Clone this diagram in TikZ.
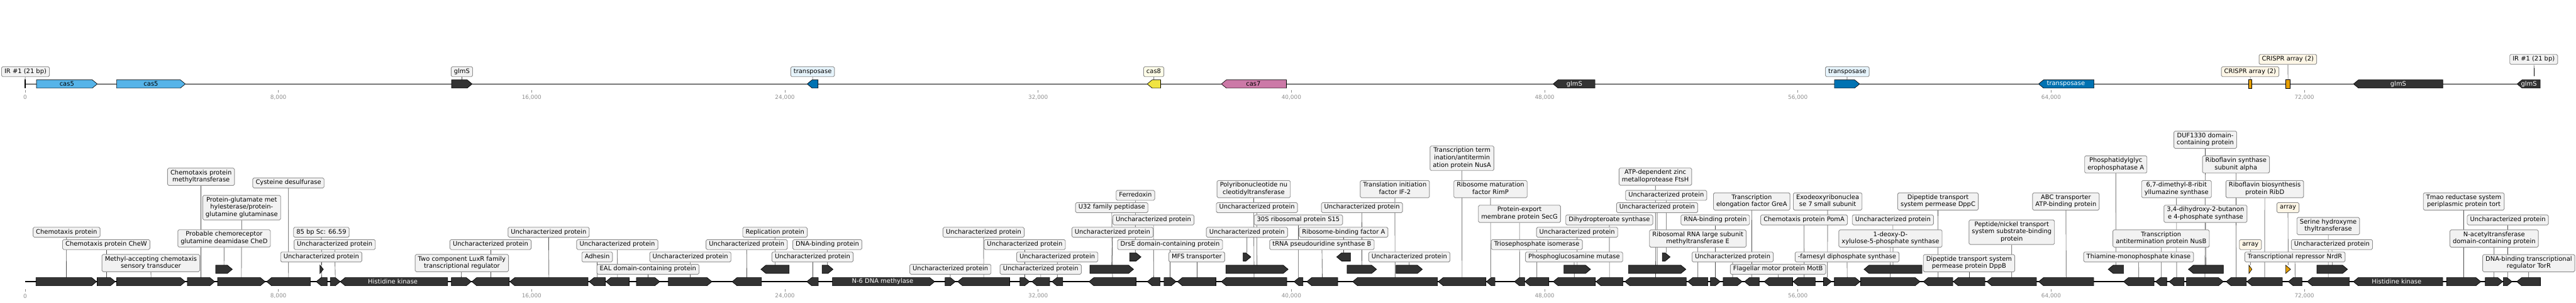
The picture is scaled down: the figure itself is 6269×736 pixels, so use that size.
\documentclass[tikz,border=0pt]{standalone}
\usepackage{fontspec}
\newfontfamily\dejavu{DejaVu Sans}
\pgfdeclarelayer{bg}
\pgfsetlayers{bg,main}

\definecolor{genedark}{HTML}{333333}
\definecolor{casblue}{HTML}{56B4E9}
\definecolor{tnpblue}{HTML}{0072B2}
\definecolor{casyellow}{HTML}{F0E442}
\definecolor{caspink}{HTML}{CC79A7}
\definecolor{crisprorange}{HTML}{E69F00}
\definecolor{boxfill}{HTML}{F2F2F2}
\definecolor{boxline}{HTML}{8F8F8F}
\definecolor{tnpfill}{HTML}{E6F4FC}
\definecolor{casfill}{HTML}{FEFDE8}
\definecolor{crisprfill}{HTML}{FDF6E6}
\definecolor{ticktext}{HTML}{8C8C8C}

\newcommand{\lblfont}{\dejavu\fontsize{7.6}{8.85}\selectfont}
\newcommand{\tickfont}{\dejavu\fontsize{6.8}{8}\selectfont}
% label text, one strut per line
\newcommand{\lines}[1]{\begin{tabular}{@{}c@{}}#1\end{tabular}}

\tikzset{
  gene/.style={draw=black, line width=0.5pt, fill=genedark, line join=miter},
  lbl/.style={draw=boxline, line width=0.7pt, fill=boxfill, rounded corners=1.5pt,
    font=\lblfont, inner xsep=3.5pt, inner ysep=1.65pt},
  conn/.style={draw=black!70, line width=0.5pt},
  track/.style={draw=black, line width=1.2pt},
  tickmark/.style={draw=ticktext, line width=0.5pt},
  ticklbl/.style={font=\tickfont, text=ticktext},
  genetxt/.style={font=\lblfont, text=white, inner sep=0pt},
}

% gene arrow: name, x1, x2, y centre, R/L, style
\newcommand{\gene}[6]{%
  \pgfmathsetmacro{\hd}{min(12,#3-#2)}%
  \if R#5
    \draw[#6] (#2,#4-10) -- ({#3-\hd},#4-10) -- (#3,#4) -- ({#3-\hd},#4+10) -- (#2,#4+10) -- cycle;
  \else
    \draw[#6] (#3,#4-10) -- ({#2+\hd},#4-10) -- (#2,#4) -- ({#2+\hd},#4+10) -- (#3,#4+10) -- cycle;
  \fi
  \coordinate (#1) at ({(#2+#3)/2},#4-10);%
}

\begin{document}
\begin{tikzpicture}[x=0.5pt, y=-0.5pt]
  \useasboundingbox (0,0) rectangle (6269,736);

  %%% upper track
  \coordinate (ua) at (61.2,204);
  \coordinate (ub) at (6181.9,204);
  \fill[black] (60.4,193) rectangle (62,215);
  \coordinate (fIRa) at (61.2,193);
  \gene{fcas5a}{88.8}{236.7}{204}{R}{gene, fill=casblue}
  \gene{fcas5b}{283.7}{451}{204}{R}{gene, fill=casblue}
  \gene{fglmSa}{1099}{1149}{204}{R}{gene}
  \gene{ftnpa}{1964.3}{1990.8}{204}{L}{gene, fill=tnpblue}
  \gene{fcas8}{2791.8}{2824.5}{204}{L}{gene, fill=casyellow}
  \gene{fcas7}{2972.4}{3130.6}{204}{L}{gene, fill=caspink}
  \gene{fglmSb}{3779.6}{3881.6}{204}{L}{gene}
  \gene{ftnpb}{4464.3}{4525.5}{204}{R}{gene, fill=tnpblue}
  \gene{ftnpc}{4961.1}{5096}{204}{L}{gene, fill=tnpblue}
  \draw[gene, fill=crisprorange] (5472.7,194) rectangle (5480.2,214);
  \coordinate (fcra) at (5476.4,194);
  \draw[gene, fill=crisprorange] (5562.6,194) rectangle (5573.8,214);
  \coordinate (fcrb) at (5568.2,194);
  \gene{fglmSc}{5727.5}{5944.8}{204}{L}{gene}
  \gene{fglmSd}{6125.6}{6181.9}{204}{L}{gene}
  \fill[black] (6166,165) rectangle (6167.6,185);
  \coordinate (fIRb) at (6166.8,165);

  \node[font=\lblfont, inner sep=0pt] (tcas5a) at (162.7,204) {cas5};
  \node[font=\lblfont, inner sep=0pt] (tcas5b) at (367.3,204) {cas5};
  \node[font=\lblfont, inner sep=0pt] (tcas7) at (3050,204) {cas7};
  \node[genetxt] (tglmSb) at (3831.5,204) {glmS};
  \node[genetxt] (ttnpc) at (5027.5,204) {transposase};
  \node[genetxt] (tglmSc) at (5836.5,204) {glmS};
  \node[genetxt] (tglmSd) at (6154.2,204) {glmS};

  \node[lbl] (uIRa) at (62,174.2) {\lines{IR \#1 (21 bp)}};
  \node[lbl] (uglmSa) at (1124,174.2) {\lines{glmS}};
  \node[lbl, fill=tnpfill] (utnpa) at (1977.6,174.2) {\lines{transposase}};
  \node[lbl, fill=casfill] (ucas8) at (2807.7,174.2) {\lines{cas8}};
  \node[lbl, fill=tnpfill] (utnpb) at (4495.6,174.2) {\lines{transposase}};
  \node[lbl, fill=crisprfill] (ucra) at (5476,174.2) {\lines{CRISPR array (2)}};
  \node[lbl, fill=crisprfill] (ucrb) at (5567.7,144.2) {\lines{CRISPR array (2)}};
  \node[lbl] (uIRb) at (6166,144.2) {\lines{IR \#1 (21 bp)}};

  %%% lower track
  \coordinate (la) at (61.2,684.3);
  \coordinate (lb) at (6182.4,684.3);
  \foreach \n/\a/\b/\y/\sd in {1/87.7/235/684.3/R, 2/236.4/280.6/684.3/R, 3/284/451/684.3/R,
      4/456/522.6/684.3/R, 5/524.7/565.4/654.3/R, 6/529.6/645.4/684.3/R, 7/649/755.5/684.3/L,
      8/769.5/796.2/684.3/L, 8b/778.7/787/654.3/R, 9/804/828/684.3/R, 10/828/1089.5/684.3/L,
      11/1098.4/1146.8/684.3/R, 12/1148.2/1239.4/684.3/L, 13/1240.8/1431/684.3/L,
      14/1433.7/1473/684.3/L, 15/1474.4/1531.2/684.3/L, 16/1548.8/1605.6/684.3/R,
      17/1626.6/1732.6/684.3/R, 18/1781.7/1853.2/684.3/L, 19/1851.8/1920.6/654.3/L,
      20/1963.4/1991.4/684.3/L, 21/2000.5/2027.2/654.3/R, 22/2025.8/2274.6/684.3/R,
      23/2300/2324.8/684.3/R, 24/2330.5/2457.3/684.3/L, 25/2482.2/2505.6/684.3/R,
      26/2511.3/2554.4/684.3/L, 27/2560/2586.4/684.3/L, 28/2650/2764.8/684.3/L,
      28b/2652.4/2758.6/654.3/R, 29/2749/2776.8/624.3/R, 30/2792/2823.2/684.3/L,
      31/2832.8/2862.2/684.3/R, 32/2865.5/2959.3/684.3/L, 33/2972.2/3131.5/684.3/L,
      33b/2983.2/3134.8/654.3/R, 34/3025.3/3044/624.3/R, 35/3149.2/3170.7/684.3/L,
      36/3180.3/3255.4/684.3/L, 37/3253/3286.4/624.3/L, 38/3278.3/3350/654.3/R,
      39/3291.7/3498.3/684.3/L, 40/3397.4/3461.5/654.3/R, 41/3500.2/3616.2/684.3/L,
      42/3617.2/3638.2/684.3/L, 43/3685.6/3710.5/684.3/L, 44/3711/3769.3/684.3/L,
      45/3779.8/3882.6/684.3/L, 45b/3806/3870.7/654.3/R, 46/3884/3949.6/684.3/L,
      47/3954.4/4103.6/684.3/L, 48/3963/4102.7/654.3/R, 49/4045.3/4064.4/624.3/R,
      50/4107.5/4156.3/684.3/L, 51/4162.5/4186.4/684.3/R, 52/4193.5/4239.7/684.3/R,
      53/4245.4/4281.3/684.3/L, 54/4293.3/4362.6/684.3/L, 55/4363.6/4417.6/684.3/L,
      56/4437.7/4456.8/684.3/R, 57/4464/4526.7/684.3/R, 58/4528/4672.6/684.3/R,
      59/4536.3/4677.4/654.3/L, 60/4680.7/4752.4/684.3/L, 61/4753.4/4830.4/684.3/L,
      62/4835.2/4956/684.3/L, 63/4961.2/5095.2/684.3/L, 64/5130.5/5167.9/654.3/L,
      65/5167.9/5242/684.3/L, 66/5245.8/5273/684.3/L, 67/5278.8/5315.2/684.3/L,
      68/5321/5410.8/684.3/R, 69/5325.7/5410.8/654.3/L, 70/5417.5/5466.8/684.3/L,
      71/5468.2/5554.3/684.3/L, 74/5568.7/5602/684.3/L, 75/5638.4/5713/654.3/R,
      76/5615/5717.3/684.3/L, 77/5727.1/5944.7/684.3/L, 78/5954/6037.3/684.3/R,
      79/6048/6090.6/684.3/R, 80/6092/6113.3/684.3/R, 81/6124.8/6182.4/684.3/L}
    {\gene{g\n}{\a}{\b}{\y}{\sd}{gene}}
  \gene{g72}{5473}{5480.2}{654.3}{R}{gene, fill=crisprorange}
  \gene{g73}{5562.4}{5574.4}{654.3}{R}{gene, fill=crisprorange}

  \node[genetxt] (thka) at (956,684.3) {Histidine kinase};
  \node[genetxt] (tn6) at (2148,684.3) {N-6 DNA methylase};
  \node[genetxt] (thkb) at (5832.5,684.3) {Histidine kinase};

  \node[lbl] (l1) at (162,564.3) {\lines{Chemotaxis protein}};
  \node[lbl] (l2) at (258.5,594.3) {\lines{Chemotaxis protein CheW}};
  \node[lbl] (l3) at (367.2,639.2) {\lines{Methyl-accepting chemotaxis\\sensory transducer}};
  \node[lbl] (l4) at (489.3,429.5) {\lines{Chemotaxis protein\\methyltransferase}};
  \node[lbl] (l5) at (545.5,579.2) {\lines{Probable chemoreceptor\\glutamine deamidase CheD}};
  \node[lbl] (l6) at (588.2,504.5) {\lines{Protein-glutamate met\\hylesterase/protein-\\glutamine glutaminase}};
  \node[lbl] (l7) at (701.9,444.5) {\lines{Cysteine desulfurase}};
  \node[lbl] (l8) at (781.8,624.3) {\lines{Uncharacterized protein}};
  \node[lbl] (l8b) at (782,564.3) {\lines{85 bp Sc: 66.59}};
  \node[lbl] (l9) at (814.5,594.3) {\lines{Uncharacterized protein}};
  \node[lbl] (l11) at (1124,639.2) {\lines{Two component LuxR family\\transcriptional regulator}};
  \node[lbl] (l12) at (1193.8,594.3) {\lines{Uncharacterized protein}};
  \node[lbl] (l13) at (1335.2,564.3) {\lines{Uncharacterized protein}};
  \node[lbl] (l14) at (1453.3,624.3) {\lines{Adhesin}};
  \node[lbl] (l15) at (1502.2,594.3) {\lines{Uncharacterized protein}};
  \node[lbl] (l16) at (1576.9,654.3) {\lines{EAL domain-containing protein}};
  \node[lbl] (l17) at (1680,624.3) {\lines{Uncharacterized protein}};
  \node[lbl] (l18) at (1817.1,594.3) {\lines{Uncharacterized protein}};
  \node[lbl] (l19) at (1886,564.3) {\lines{Replication protein}};
  \node[lbl] (l20) at (1977.4,624.3) {\lines{Uncharacterized protein}};
  \node[lbl] (l21) at (2013.5,594.3) {\lines{DNA-binding protein}};
  \node[lbl] (l23) at (2312.9,654.3) {\lines{Uncharacterized protein}};
  \node[lbl] (l24) at (2393.7,564.3) {\lines{Uncharacterized protein}};
  \node[lbl] (l25) at (2493.9,594.3) {\lines{Uncharacterized protein}};
  \node[lbl] (l26) at (2532.6,654.3) {\lines{Uncharacterized protein}};
  \node[lbl] (l27) at (2573,624.3) {\lines{Uncharacterized protein}};
  \node[lbl] (l28) at (2705.5,504.5) {\lines{U32 family peptidase}};
  \node[lbl] (l28b) at (2707.3,564.3) {\lines{Uncharacterized protein}};
  \node[lbl] (l29) at (2763.2,474.5) {\lines{Ferredoxin}};
  \node[lbl] (l30) at (2807,534.3) {\lines{Uncharacterized protein}};
  \node[lbl] (l31) at (2847.5,594.3) {\lines{DrsE domain-containing protein}};
  \node[lbl] (l32) at (2912.4,624.3) {\lines{MFS transporter}};
  \node[lbl] (l33) at (3051,459.5) {\lines{Polyribonucleotide nu\\cleotidyltransferase}};
  \node[lbl] (l33b) at (3058.8,504.5) {\lines{Uncharacterized protein}};
  \node[lbl] (l34) at (3034.6,564.3) {\lines{Uncharacterized protein}};
  \node[lbl] (l35) at (3159.7,534.3) {\lines{30S ribosomal protein S15}};
  \node[lbl] (l36) at (3217,594.3) {\lines{tRNA pseudouridine synthase B}};
  \node[lbl] (l37) at (3269.7,564.3) {\lines{Ribosome-binding factor A}};
  \node[lbl] (l38) at (3314.5,504.5) {\lines{Uncharacterized protein}};
  \node[lbl] (l39) at (3394.5,459.5) {\lines{Translation initiation\\factor IF-2}};
  \node[lbl] (l40) at (3429.7,624.3) {\lines{Uncharacterized protein}};
  \node[lbl] (l41) at (3557.8,384.5) {\lines{Transcription term\\ination/antitermin\\ation protein NusA}};
  \node[lbl] (l42) at (3627.3,459.5) {\lines{Ribosome maturation\\factor RimP}};
  \node[lbl] (l43) at (3697.8,519.5) {\lines{Protein-export\\membrane protein SecG}};
  \node[lbl] (l44) at (3740,594.3) {\lines{Triosephosphate isomerase}};
  \node[lbl] (l45) at (3830.7,624.3) {\lines{Phosphoglucosamine mutase}};
  \node[lbl] (l45b) at (3838,564.3) {\lines{Uncharacterized protein}};
  \node[lbl] (l46) at (3916.4,534.3) {\lines{Dihydropteroate synthase}};
  \node[lbl] (l47) at (4028.5,429.2) {\lines{ATP-dependent zinc\\metalloprotease FtsH}};
  \node[lbl] (l48) at (4032.8,504.5) {\lines{Uncharacterized protein}};
  \node[lbl] (l49) at (4054.8,474.5) {\lines{Uncharacterized protein}};
  \node[lbl] (l50) at (4131.8,579.5) {\lines{Ribosomal RNA large subunit\\methyltransferase E}};
  \node[lbl] (l51) at (4174.3,534.3) {\lines{RNA-binding protein}};
  \node[lbl] (l52) at (4216.6,624.3) {\lines{Uncharacterized protein}};
  \node[lbl] (l53) at (4263,489.5) {\lines{Transcription\\elongation factor GreA}};
  \node[lbl] (l54) at (4327,654.3) {\lines{Flagellar motor protein MotB}};
  \node[lbl] (l55) at (4390.4,534.3) {\lines{Chemotaxis protein PomA}};
  \node[lbl] (l56) at (4447.8,489.5) {\lines{Exodeoxyribonuclea\\se 7 small subunit}};
  \node[lbl] (l57) at (4495,624.3) {\lines{-farnesyl diphosphate synthase}};
  \node[lbl] (l58) at (4600.6,579.5) {\lines{1-deoxy-D-\\xylulose-5-phosphate synthase}};
  \node[lbl] (l59) at (4606.5,534.3) {\lines{Uncharacterized protein}};
  \node[lbl] (l60) at (4716.3,489.5) {\lines{Dipeptide transport\\system permease DppC}};
  \node[lbl] (l61) at (4791.9,639.5) {\lines{Dipeptide transport system\\permease protein DppB}};
  \node[lbl] (l62) at (4895.8,564.2) {\lines{Peptide/nickel transport\\system substrate-binding\\protein}};
  \node[lbl] (l63) at (5027.5,489.5) {\lines{ABC transporter\\ATP-binding protein}};
  \node[lbl] (l64) at (5149,399.5) {\lines{Phosphatidylglyc\\erophosphatase A}};
  \node[lbl] (l65) at (5204.5,624.3) {\lines{Thiamine-monophosphate kinase}};
  \node[lbl] (l66) at (5259.3,579.5) {\lines{Transcription\\antitermination protein NusB}};
  \node[lbl] (l67) at (5296.7,459.5) {\lines{6,7-dimethyl-8-ribit\\yllumazine synthase}};
  \node[lbl] (l68) at (5366.8,339.5) {\lines{DUF1330 domain-\\containing protein}};
  \node[lbl] (l69) at (5367.3,519.5) {\lines{3,4-dihydroxy-2-butanon\\e 4-phosphate synthase}};
  \node[lbl] (l70) at (5441.4,399.5) {\lines{Riboflavin synthase\\subunit alpha}};
  \node[lbl] (l71) at (5511.5,459.5) {\lines{Riboflavin biosynthesis\\protein RibD}};
  \node[lbl, fill=crisprfill] (l72) at (5476.6,594.3) {\lines{array}};
  \node[lbl, fill=crisprfill] (l73) at (5568,504.5) {\lines{array}};
  \node[lbl] (l74) at (5584.9,624.3) {\lines{Transcriptional repressor NrdR}};
  \node[lbl] (l75) at (5675,594.3) {\lines{Uncharacterized protein}};
  \node[lbl] (l76) at (5666,549.2) {\lines{Serine hydroxyme\\thyltransferase}};
  \node[lbl] (l78) at (5995.8,489.5) {\lines{Tmao reductase system\\periplasmic protein tort}};
  \node[lbl] (l79) at (6069.7,579.5) {\lines{N-acetyltransferase\\domain-containing protein}};
  \node[lbl] (l80) at (6103,534.3) {\lines{Uncharacterized protein}};
  \node[lbl] (l81) at (6154,639.5) {\lines{DNA-binding transcriptional\\regulator TorR}};

  % axis ticks
  \foreach \k/\t in {0/0, 1/{8,000}, 2/{16,000}, 3/{24,000}, 4/{32,000}, 5/{40,000},
      6/{48,000}, 7/{56,000}, 8/{64,000}, 9/{72,000}} {
    \draw[tickmark] ({61.2+616.3*\k},219.5) -- ++(0,5);
    \node[ticklbl] (ta\k) at ({61.2+616.3*\k},236.7) {\t};
    \draw[tickmark] ({61.2+616.3*\k},702.5) -- ++(0,5.5);
    \node[ticklbl] (tb\k) at ({61.2+616.3*\k},719.3) {\t};
  }

  \begin{pgfonlayer}{bg}
    \draw[track] (ua) -- (ub);
    \draw[track] (la) -- (lb);
    \foreach \f/\u in {fIRa/uIRa, fglmSa/uglmSa, ftnpa/utnpa, fcas8/ucas8, ftnpb/utnpb,
        fcra/ucra, fcrb/ucrb, fIRb/uIRb}
      \draw[conn] (\f) -- (\u);
    \foreach \k in {1,2,3,4,5,6,7,8,8b,9,11,12,13,14,15,16,17,18,19,20,21,23,24,25,26,27,
        28,28b,29,30,31,32,33,33b,34,35,36,37,38,39,40,41,42,43,44,45,45b,46,47,48,49,50,
        51,52,53,54,55,56,57,58,59,60,61,62,63,64,65,66,67,68,69,70,71,72,73,74,75,76,78,
        79,80,81}
      \draw[conn] (g\k) -- (l\k);
  \end{pgfonlayer}
\end{tikzpicture}
\end{document}
